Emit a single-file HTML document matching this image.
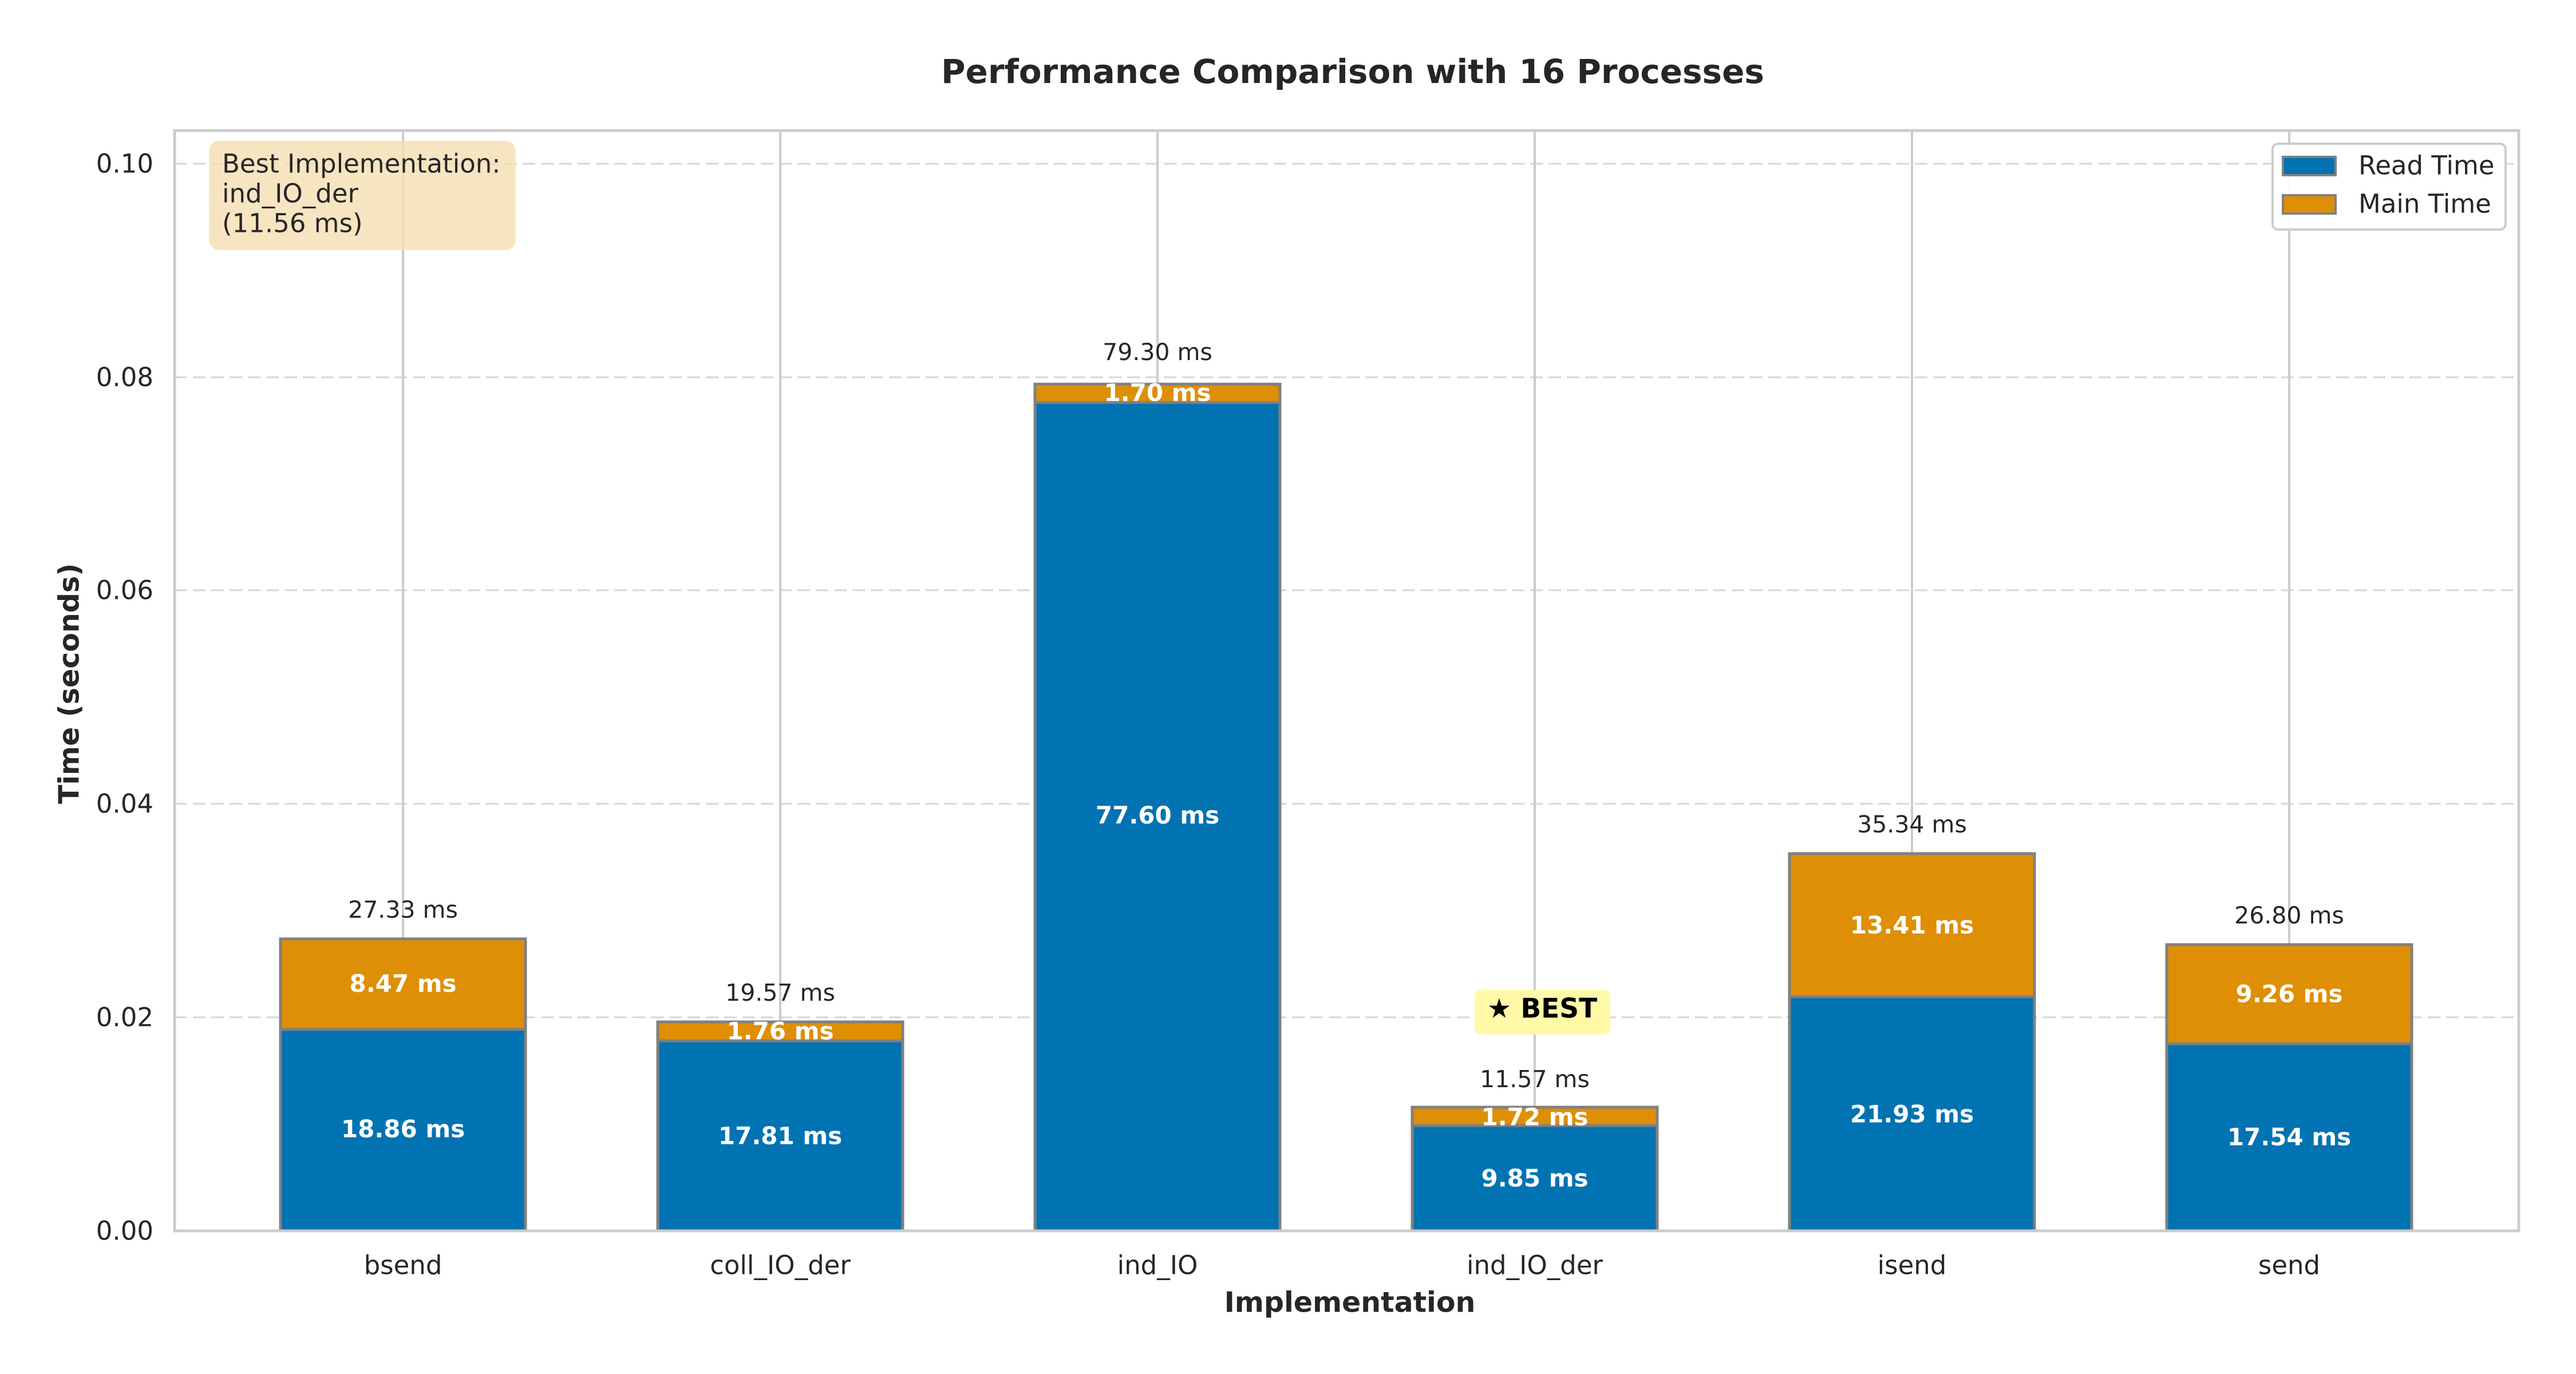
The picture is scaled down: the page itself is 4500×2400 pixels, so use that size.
<!DOCTYPE html>
<html><head><meta charset="utf-8"><style>html,body{margin:0;padding:0;background:#fff}svg{display:block}</style></head><body>
<svg width="4500" height="2400" viewBox="0 0 4500 2400" xmlns="http://www.w3.org/2000/svg" font-family="'DejaVu Sans','Liberation Sans',sans-serif">
<rect width="4500" height="2400" fill="#fff"/>
<g stroke="#d6d6d6" stroke-width="3" stroke-dasharray="22,10">
<line x1="305" x2="4400" y1="1777" y2="1777"/>
<line x1="305" x2="4400" y1="1404" y2="1404"/>
<line x1="305" x2="4400" y1="1031" y2="1031"/>
<line x1="305" x2="4400" y1="659" y2="659"/>
<line x1="305" x2="4400" y1="286" y2="286"/>
</g>
<g stroke="#cccccc" stroke-width="4">
<line x1="704" x2="704" y1="228" y2="2150"/>
<line x1="1363" x2="1363" y1="228" y2="2150"/>
<line x1="2022" x2="2022" y1="228" y2="2150"/>
<line x1="2681" x2="2681" y1="228" y2="2150"/>
<line x1="3340" x2="3340" y1="228" y2="2150"/>
<line x1="3999" x2="3999" y1="228" y2="2150"/>
</g>
<g stroke="#808080" stroke-width="5">
<rect x="490" y="1798" width="428" height="352" fill="#0173b2"/>
<rect x="490" y="1640" width="428" height="158" fill="#de8f05"/>
<rect x="1149" y="1818" width="428" height="332" fill="#0173b2"/>
<rect x="1149" y="1785" width="428" height="33" fill="#de8f05"/>
<rect x="1808" y="703" width="428" height="1447" fill="#0173b2"/>
<rect x="1808" y="671" width="428" height="32" fill="#de8f05"/>
<rect x="2467" y="1966" width="428" height="184" fill="#0173b2"/>
<rect x="2467" y="1934" width="428" height="32" fill="#de8f05"/>
<rect x="3126" y="1741" width="428" height="409" fill="#0173b2"/>
<rect x="3126" y="1491" width="428" height="250" fill="#de8f05"/>
<rect x="3785" y="1823" width="428" height="327" fill="#0173b2"/>
<rect x="3785" y="1650" width="428" height="173" fill="#de8f05"/>
</g>
<rect x="305" y="228" width="4095" height="1922" fill="none" stroke="#cccccc" stroke-width="5"/>
<g fill="#fff" font-weight="bold" font-size="42" text-anchor="middle" dominant-baseline="central">
<text x="704" y="1972">18.86 ms</text><text x="704" y="1718">8.47 ms</text>
<text x="1363" y="1984">17.81 ms</text><text x="1363" y="1801">1.76 ms</text>
<text x="2022" y="1424">77.60 ms</text><text x="2022" y="686">1.70 ms</text>
<text x="2681" y="2058">9.85 ms</text><text x="2681" y="1951">1.72 ms</text>
<text x="3340" y="1946">21.93 ms</text><text x="3340" y="1616">13.41 ms</text>
<text x="3999" y="1986">17.54 ms</text><text x="3999" y="1736">9.26 ms</text>
</g>
<g fill="#262626" font-size="41" text-anchor="middle" dominant-baseline="central">
<text x="704" y="1589">27.33 ms</text>
<text x="1363" y="1734">19.57 ms</text>
<text x="2022" y="615">79.30 ms</text>
<text x="2681" y="1885">11.57 ms</text>
<text x="3340" y="1440">35.34 ms</text>
<text x="3999" y="1599">26.80 ms</text>
</g>
<rect x="2576" y="1729" width="237" height="78" rx="12" fill="#fff9a8"/>
<text x="2694" y="1762" font-size="47" font-weight="bold" fill="#000" text-anchor="middle" dominant-baseline="central">★ BEST</text>
<g fill="#262626" font-size="45" text-anchor="middle" dominant-baseline="central">
<text x="704" y="2210">bsend</text><text x="1363" y="2210">coll_IO_der</text><text x="2022" y="2210">ind_IO</text>
<text x="2681" y="2210">ind_IO_der</text><text x="3340" y="2210">isend</text><text x="3999" y="2210">send</text>
</g>
<g fill="#262626" font-size="45" text-anchor="end" dominant-baseline="central">
<text x="268" y="2150">0.00</text><text x="268" y="1777">0.02</text><text x="268" y="1404">0.04</text>
<text x="268" y="1031">0.06</text><text x="268" y="659">0.08</text><text x="268" y="286">0.10</text>
</g>
<text x="2358" y="2275" font-size="49" font-weight="bold" fill="#262626" text-anchor="middle" dominant-baseline="central">Implementation</text>
<text transform="translate(121,1194) rotate(-90)" font-size="49" font-weight="bold" fill="#262626" text-anchor="middle" dominant-baseline="central">Time (seconds)</text>
<text x="2363" y="125" font-size="58" font-weight="bold" fill="#262626" text-anchor="middle" dominant-baseline="central">Performance Comparison with 16 Processes</text>
<rect x="365" y="246" width="536" height="191" rx="18" fill="#f5deb3" fill-opacity="0.8"/>
<g fill="#262626" font-size="45" dominant-baseline="central">
<text x="388" y="286">Best Implementation:</text>
<text x="388" y="338">ind_IO_der</text>
<text x="388" y="390">(11.56 ms)</text>
</g>
<rect x="3970" y="251" width="407" height="150" rx="10" fill="#fff" fill-opacity="0.85" stroke="#cccccc" stroke-width="4"/>
<rect x="3988" y="274" width="92" height="32" fill="#0173b2" stroke="#808080" stroke-width="4"/>
<rect x="3988" y="341" width="92" height="32" fill="#de8f05" stroke="#808080" stroke-width="4"/>
<g fill="#262626" font-size="45" dominant-baseline="central">
<text x="4120" y="289">Read Time</text>
<text x="4120" y="356">Main Time</text>
</g>
</svg>
</body></html>
